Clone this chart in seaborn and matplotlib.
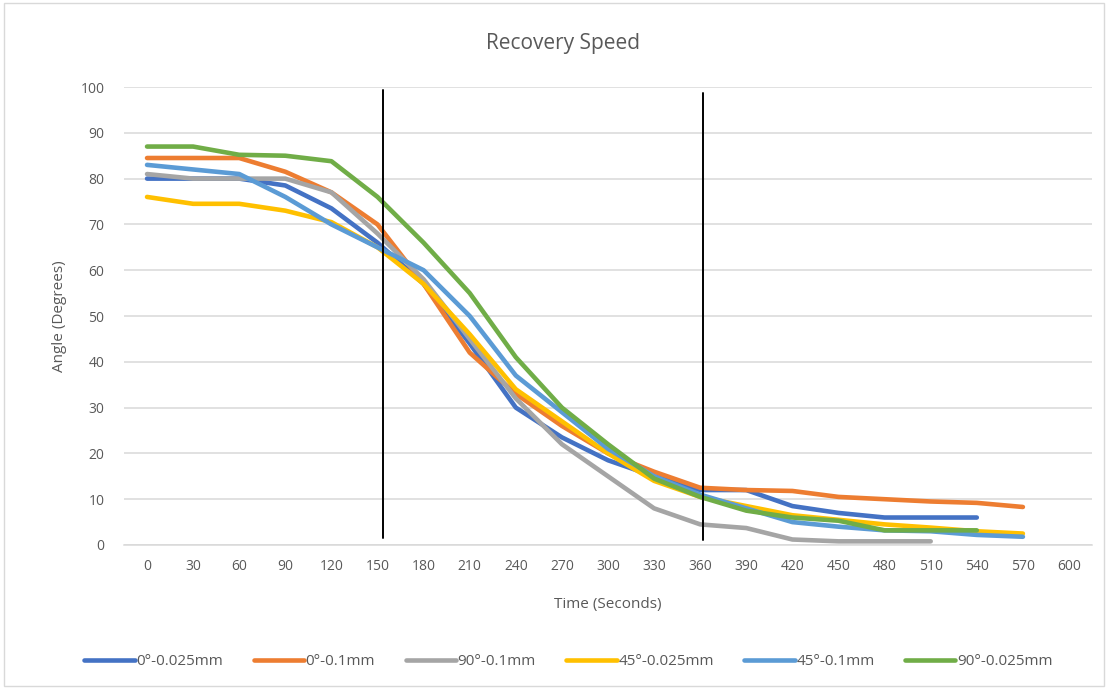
import matplotlib.pyplot as plt
import numpy as np
import pandas as pd
import seaborn as sns
from matplotlib.patches import Rectangle

time_s = list(range(0, 601, 30))
series_names = ['0°-0.025mm', '0°-0.1mm', '90°-0.1mm', '45°-0.025mm', '45°-0.1mm', '90°-0.025mm']
colors = ['#4472C4', '#ED7D31', '#A5A5A5', '#FFC000', '#5B9BD5', '#70AD47']

nan = np.nan
blue = [80, 80, 80, 78.5, 73.5, 66, 57, 44, 30, 23.5, 18.5, 15, 12, 12, 8.5, 7, 6, 6, 6, nan, nan]
orange = [84.5, 84.5, 84.5, 81.5, 77, 70, 57, 42, 33, 26, 20, 16, 12.5, 12, 11.8, 10.5, 10, 9.5, 9.2, 8.3, nan]
gray = [81, 80, 80, 80, 77, 68, 58, 45, 32, 22, 15, 8, 4.5, 3.7, 1.2, 0.8, 0.8, 0.8, nan, nan, nan]
yellow = [76, 74.5, 74.5, 73, 70.5, 65, 57, 46, 34, 27, 20, 14, 10.5, 8.5, 6.5, 5.5, 4.5, 3.8, 3.0, 2.5, nan]
lightblue = [83, 82, 81, 76, 70, 65, 60, 50, 37, 29, 21, 15, 11, 8, 5, 4, 3.2, 3, 2.2, 1.8, nan]
green = [87, 87, 85.2, 85, 83.8, 76, 66, 55, 41, 30, 22, 14.5, 10.5, 7.5, 6, 5.3, 3.2, 3.2, 3.2, nan, nan]

# hand-drawn marker lines (slightly off the category centres in the original)
marker_times = [153.5, 361.5]

df = pd.DataFrame({'Time': time_s})
for name, vals in zip(series_names, [blue, orange, gray, yellow, lightblue, green]):
    df[name] = vals
long = df.melt(id_vars='Time', var_name='Series', value_name='Angle').dropna()

sns.set_theme(style='white')
plt.rcParams['font.family'] = ['Open Sans', 'DejaVu Sans']
txt = '#595959'

fig = plt.figure(figsize=(11.08, 6.89), dpi=100)
ax = fig.add_axes([0.1119, 0.209, 0.8737, 0.6647])

sns.lineplot(data=long, x='Time', y='Angle', hue='Series', hue_order=series_names,
             palette=colors, linewidth=3.3, ax=ax, legend=True,
             solid_capstyle='round')

ax.plot([marker_times[0]] * 2, [1.5, 99.3], color='black', linewidth=1.4, zorder=5)
ax.plot([marker_times[1]] * 2, [1.0, 98.7], color='black', linewidth=1.4, zorder=5)

ax.set_xlim(-15, 615)
ax.set_ylim(0, 100)
ax.set_xticks(time_s)
ax.set_yticks(range(0, 101, 10))
ax.yaxis.grid(True, color='#D9D9D9', linewidth=1.1)
ax.set_axisbelow(True)
for s in ['top', 'right', 'left']:
    ax.spines[s].set_visible(False)
ax.spines['bottom'].set_color('#D9D9D9')
ax.spines['bottom'].set_linewidth(1.1)
ax.tick_params(axis='both', length=0, labelsize=10, labelcolor=txt, pad=10)
ax.tick_params(axis='y', pad=14)
ax.set_xlabel('Time (Seconds)', fontsize=11, color=txt, labelpad=17)
ax.set_ylabel('Angle (Degrees)', fontsize=11, color=txt, labelpad=10)
fig.text(0.508, 0.937, 'Recovery Speed', ha='center', va='center', fontsize=15, color=txt)

handles, labels = ax.get_legend_handles_labels()
ax.legend_.remove()
leg = fig.legend(handles, labels, loc='center', bbox_to_anchor=(0.513, 0.04), ncol=6,
                 frameon=False, fontsize=11, handlelength=3.3, handletextpad=0.1,
                 columnspacing=2.0, labelcolor=txt)
for h in leg.legend_handles:
    h.set_linewidth(3.3)

fig.patches.append(Rectangle((0.004, 0.004), 0.992, 0.992, transform=fig.transFigure,
                             fill=False, edgecolor='#D9D9D9', linewidth=1))

fig.savefig('out.png', dpi=100)
